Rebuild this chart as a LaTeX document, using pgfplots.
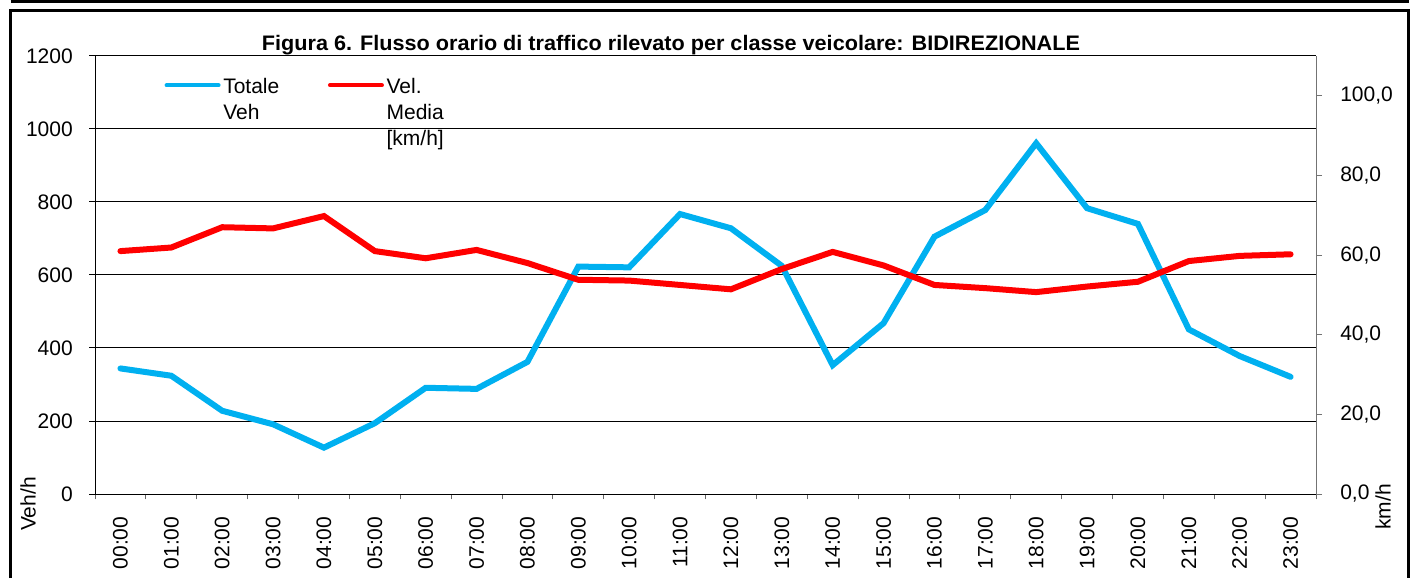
\documentclass[border=0pt]{standalone}
\usepackage{pgfplots}
\pgfplotsset{compat=1.18}
\usepackage{fontspec}
\setmainfont{Liberation Sans}
\usepackage{graphicx}
\definecolor{vehblue}{HTML}{00B0F0}
\definecolor{velred}{HTML}{FF0000}
\pgfkeys{/pgf/number format/assume math mode=true}
\begin{document}
\begin{tikzpicture}
\useasboundingbox (0,0) rectangle (1062pt,433.5pt);
\draw[line width=2.25pt] (7.875pt,432.6pt) -- (1056.4pt,432.6pt);
\draw[line width=2.25pt] (7.875pt,0pt) -- (7.875pt,425.25pt) -- (1056.4pt,425.25pt) -- (1056.4pt,0pt);
\pgfplotsset{every axis/.append style={font=\fontsize{15.75pt}{18pt}\selectfont}}
\begin{axis}[
  at={(71.25pt,63pt)}, anchor=south west, scale only axis,
  width=915.75pt, height=328.5pt,
  xmin=-0.5, xmax=23.5, ymin=0, ymax=1200,
  axis x line*=bottom, axis y line*=left,
  x axis line style={-, black, line width=0.75pt},
  y axis line style={-, black, line width=0.75pt},
  xtick={0,...,23},
  xticklabels={00:00,01:00,02:00,03:00,04:00,05:00,06:00,07:00,08:00,09:00,10:00,11:00,12:00,13:00,14:00,15:00,16:00,17:00,18:00,19:00,20:00,21:00,22:00,23:00},
  major x tick style={draw=none},
  minor xtick={-0.5,0.5,...,23.5},
  minor x tick style={black!60, line width=0.75pt},
  ytick={0,200,...,1200},
  ymajorgrids, grid style={black, line width=0.75pt},
  tick align=outside,
  major tick length=4.5pt, minor tick length=4pt,
  ytick style={black, line width=0.75pt},
  xticklabel style={rotate=90, anchor=east},
  xticklabel shift=9pt,
  yticklabel style={anchor=east, inner sep=0pt},
  yticklabel={\pgfmathprintnumber[1000 sep={}]{\tick}\hspace*{12pt}},
]
\addplot[vehblue, line width=4.5pt, line join=miter, line cap=round] coordinates {
(0,344) (1,324) (2,228) (3,191) (4,127) (5,194) (6,291) (7,288) (8,362) (9,623) (10,621) (11,767)
(12,728) (13,625) (14,353) (15,468) (16,705) (17,778) (18,961) (19,783) (20,740) (21,451) (22,378) (23,321)};
\end{axis}
\begin{axis}[
  at={(71.25pt,63pt)}, anchor=south west, scale only axis,
  width=915.75pt, height=328.5pt,
  xmin=-0.5, xmax=23.5, ymin=0, ymax=110,
  axis x line=none, axis y line*=right,
  y axis line style={-, black!55, line width=0.75pt},
  ytick={0,20,...,100},
  tick align=outside, major tick length=4.5pt,
  ytick style={black!55, line width=0.75pt},
  yticklabel style={anchor=west, inner sep=0pt},
  yticklabel={\hspace*{13.5pt}\pgfmathprintnumber[fixed, fixed zerofill, precision=1, use comma]{\tick}},
  legend columns=2,
  legend image code/.code={\draw[#1, line width=3pt, line cap=round] (0pt,0pt) -- (39pt,0pt);},
  legend style={draw=none, fill=none, at={(0.0535,0.969)}, anchor=north west,
    font=\fontsize{15.75pt}{19.5pt}\selectfont,
    /tikz/every even column/.append style={column sep=34.5pt}},
]
\addlegendimage{vehblue, line width=4.5pt}
\addlegendentry{\begin{tabular}[t]{@{}l@{}}Totale\\Veh\end{tabular}}
\addplot[velred, line width=4.5pt, line join=miter, line cap=round] coordinates {
(0,61.0) (1,61.9) (2,67.0) (3,66.7) (4,69.8) (5,61.0) (6,59.2) (7,61.3) (8,58.0) (9,53.8) (10,53.6) (11,52.5)
(12,51.4) (13,56.5) (14,60.8) (15,57.4) (16,52.5) (17,51.7) (18,50.7) (19,52.1) (20,53.3) (21,58.5) (22,59.8) (23,60.2)};
\addlegendentry{\begin{tabular}[t]{@{}l@{}}Vel.\\Media\\{[km/h]}\end{tabular}}
\end{axis}
\node[anchor=base] at (503.25pt,395.25pt) {\resizebox{613.5pt}{\height}{\fontsize{15.75pt}{18pt}\selectfont\bfseries Figura 6. Flusso orario di traffico rilevato per classe veicolare: BIDIREZIONALE}};
\node[rotate=90, font=\fontsize{15.75pt}{18pt}\selectfont] at (21pt,55.5pt) {Veh/h};
\node[rotate=90, font=\fontsize{15.75pt}{18pt}\selectfont] at (1037.25pt,53.25pt) {km/h};
\end{tikzpicture}
\end{document}
